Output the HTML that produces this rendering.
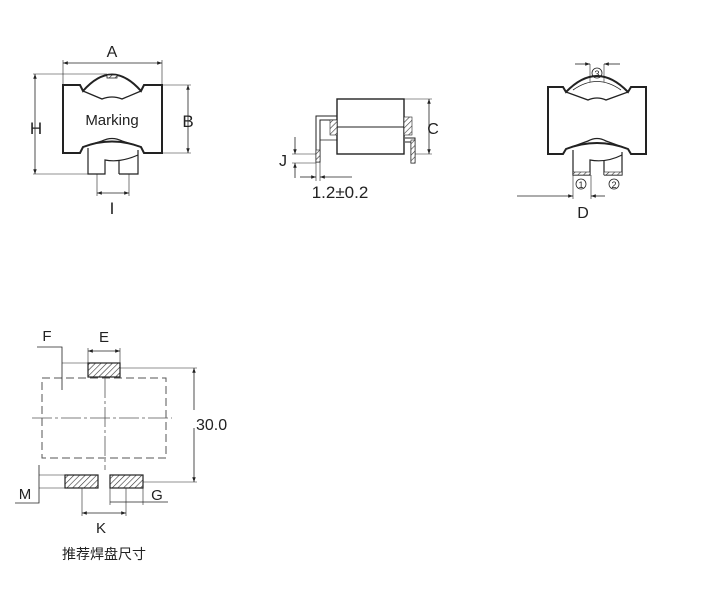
<!DOCTYPE html>
<html><head><meta charset="utf-8"><style>
html,body{margin:0;padding:0;background:#fff;}
svg{display:block;}
text{font-family:"Liberation Sans","Noto Sans CJK SC",sans-serif;fill:#222;}
</style></head><body>
<svg width="709" height="600" viewBox="0 0 709 600" xmlns="http://www.w3.org/2000/svg">
<defs>
<pattern id="h" width="4" height="4" patternUnits="userSpaceOnUse" patternTransform="rotate(45)">
<rect width="4" height="4" fill="#fff"/><line x1="0" y1="0" x2="0" y2="4" stroke="#333" stroke-width="1.2"/></pattern>
<marker id="a" markerWidth="6" markerHeight="6" refX="6" refY="3" orient="auto-start-reverse"><path d="M0,0.8 L6,3 L0,5.2z" fill="#222"/></marker>
</defs>
<g fill="none" stroke="#222" stroke-width="1">
<path d="M63,85 H80 L83,91 Q112,58 141,91 L144,85 H162 V153 H144 L141,147 Q112,136 83,147 L80,153 H63 Z" stroke-width="2"/>
<path d="M83,91 L102,99 Q112,95 122,99 L141,91" stroke-width="1.3"/>
<path d="M83,147 L102,141 Q112,136 122,141 L141,147" stroke-width="1.3"/>
<path d="M88,148 V174 H105 V160 Q120,163 138,155" stroke-width="1.2"/>
<path d="M119,174 V160 M119,174 H138 V150" stroke-width="1.2"/>
<rect x="107" y="75" width="10" height="3" fill="url(#h)" stroke-width="0.8"/>
<line x1="63" y1="63" x2="162" y2="63" marker-start="url(#a)" marker-end="url(#a)" stroke-width="0.8"/>
<line x1="63" y1="60" x2="63" y2="85" stroke-width="0.6"/><line x1="162" y1="60" x2="162" y2="85" stroke-width="0.6"/>
<line x1="35" y1="74" x2="35" y2="174" marker-start="url(#a)" marker-end="url(#a)" stroke-width="0.8"/>
<line x1="33" y1="74" x2="107" y2="74" stroke-width="0.6"/><line x1="33" y1="174" x2="88" y2="174" stroke-width="0.6"/>
<line x1="188" y1="85" x2="188" y2="153" marker-start="url(#a)" marker-end="url(#a)" stroke-width="0.8"/>
<line x1="162" y1="85" x2="191" y2="85" stroke-width="0.6"/><line x1="162" y1="153" x2="191" y2="153" stroke-width="0.6"/>
<line x1="97" y1="193" x2="129" y2="193" marker-start="url(#a)" marker-end="url(#a)" stroke-width="0.8"/>
<line x1="97" y1="174" x2="97" y2="196" stroke-width="0.6"/><line x1="129" y1="174" x2="129" y2="196" stroke-width="0.6"/>
<rect x="337" y="99" width="67" height="55" stroke-width="1.4"/>
<line x1="337" y1="127" x2="404" y2="127"/>
<path d="M337,116 H316 V162 H320 V120 H337" stroke-width="1"/>
<path d="M320,140 H337" stroke-width="0.8"/>
<rect x="316" y="150" width="4" height="12" fill="url(#h)" stroke-width="0.6"/>
<rect x="330" y="120" width="7" height="15" fill="url(#h)" stroke-width="0.6"/>
<rect x="404" y="117" width="8" height="18" fill="url(#h)" stroke-width="0.6"/>
<path d="M405,138 H415 V163 H411 V142 H405"/>
<rect x="411" y="140" width="4" height="23" fill="url(#h)" stroke-width="0.6"/>
<line x1="429" y1="99" x2="429" y2="154" marker-start="url(#a)" marker-end="url(#a)" stroke-width="0.8"/>
<line x1="404" y1="99" x2="432" y2="99" stroke-width="0.6"/><line x1="415" y1="154" x2="432" y2="154" stroke-width="0.6"/>
<line x1="295" y1="137" x2="295" y2="154" marker-end="url(#a)" stroke-width="0.8"/>
<line x1="295" y1="178" x2="295" y2="163" marker-end="url(#a)" stroke-width="0.8"/>
<line x1="292" y1="154" x2="316" y2="154" stroke-width="0.6"/><line x1="292" y1="163" x2="316" y2="163" stroke-width="0.6"/>
<line x1="316" y1="162" x2="316" y2="181" stroke-width="0.6"/><line x1="320" y1="162" x2="320" y2="181" stroke-width="0.6"/>
<line x1="300" y1="177" x2="316" y2="177" marker-end="url(#a)" stroke-width="0.8"/>
<line x1="352" y1="177" x2="320" y2="177" marker-end="url(#a)" stroke-width="0.8"/>
<path d="M548,87 H563 L566,92 Q597,60 628,92 L631,87 H646 V154 H631 L628,149 Q597,137 566,149 L563,154 H548 Z" stroke-width="2"/>
<path d="M566,92 L588,100 Q597,96 606,100 L628,92" stroke-width="1.3"/>
<path d="M573,90 Q597,73 621,90" stroke-width="0.8"/>
<path d="M566,149 L588,141 Q597,136 606,141 L628,149" stroke-width="1.3"/>
<path d="M573,150 V175 H590 V160 Q606,163 622,155" stroke-width="1.2"/>
<path d="M604,175 V160 M604,175 H622 V152" stroke-width="1.2"/>
<rect x="573" y="172" width="17" height="3" fill="url(#h)" stroke-width="0.6"/>
<rect x="604" y="172" width="18" height="3" fill="url(#h)" stroke-width="0.6"/>
<circle cx="581" cy="184" r="5" stroke-width="0.8"/><circle cx="614" cy="184" r="5" stroke-width="0.8"/>
<circle cx="597" cy="73" r="5" stroke-width="0.8"/>
<line x1="590" y1="64" x2="590" y2="82" stroke-width="0.6"/><line x1="604" y1="64" x2="604" y2="82" stroke-width="0.6"/>
<line x1="575" y1="64" x2="590" y2="64" marker-end="url(#a)" stroke-width="0.8"/>
<line x1="620" y1="64" x2="604" y2="64" marker-end="url(#a)" stroke-width="0.8"/>
<line x1="573" y1="175" x2="573" y2="199" stroke-width="0.6"/><line x1="591" y1="175" x2="591" y2="199" stroke-width="0.6"/>
<line x1="517" y1="196" x2="573" y2="196" marker-end="url(#a)" stroke-width="0.8"/>
<line x1="605" y1="196" x2="591" y2="196" marker-end="url(#a)" stroke-width="0.8"/>
<rect x="42" y="378" width="124" height="80" stroke-dasharray="8,4" stroke="#555"/>
<line x1="105" y1="378" x2="105" y2="470" stroke-dasharray="20,3,3,3" stroke="#555" stroke-width="0.8"/>
<line x1="32" y1="418" x2="175" y2="418" stroke-dasharray="20,3,3,3" stroke="#555" stroke-width="0.8"/>
<rect x="88" y="363" width="32" height="14" fill="url(#h)" stroke-width="1.2"/>
<rect x="65" y="475" width="33" height="13" fill="url(#h)" stroke-width="1.2"/>
<rect x="110" y="475" width="33" height="13" fill="url(#h)" stroke-width="1.2"/>
<line x1="88" y1="351" x2="120" y2="351" marker-start="url(#a)" marker-end="url(#a)" stroke-width="0.8"/>
<line x1="88" y1="348" x2="88" y2="363" stroke-width="0.6"/><line x1="120" y1="348" x2="120" y2="363" stroke-width="0.6"/>
<path d="M37,347 H62 V390" stroke-width="0.8"/>
<line x1="62" y1="363" x2="88" y2="363" stroke-width="0.6"/>
<line x1="194" y1="368" x2="194" y2="482" marker-start="url(#a)" marker-end="url(#a)" stroke-width="0.8"/>
<line x1="120" y1="368" x2="197" y2="368" stroke-width="0.6"/><line x1="143" y1="482" x2="197" y2="482" stroke-width="0.6"/>
<rect x="172" y="410" width="48" height="18" fill="#fff" stroke="none"/>
<path d="M39,465 V503 H15" stroke-width="0.8"/>
<line x1="39" y1="475" x2="65" y2="475" stroke-width="0.6"/><line x1="39" y1="488" x2="65" y2="488" stroke-width="0.6"/>
<line x1="110" y1="488" x2="110" y2="505" stroke-width="0.6"/><line x1="143" y1="488" x2="143" y2="505" stroke-width="0.6"/>
<line x1="110" y1="502" x2="168" y2="502" stroke-width="0.8"/>
<line x1="82" y1="488" x2="82" y2="516" stroke-width="0.6"/><line x1="126" y1="488" x2="126" y2="516" stroke-width="0.6"/>
<line x1="82" y1="513" x2="126" y2="513" marker-start="url(#a)" marker-end="url(#a)" stroke-width="0.8"/>
</g>
<g font-size="16">
<text x="112" y="57" text-anchor="middle">A</text>
<text x="36" y="134" text-anchor="middle" font-size="17">H</text>
<text x="188" y="127" text-anchor="middle" font-size="17">B</text>
<text x="112" y="214" text-anchor="middle" font-family="Liberation Serif" font-size="17">I</text>
<text x="112" y="125" text-anchor="middle" font-size="15">Marking</text>
<text x="433" y="134" text-anchor="middle">C</text>
<text x="283" y="166" text-anchor="middle">J</text>
<text x="340" y="198" text-anchor="middle" font-size="17">1.2±0.2</text>
<text x="583" y="218" text-anchor="middle">D</text>
<text x="581" y="188" text-anchor="middle" font-size="9">1</text>
<text x="614" y="188" text-anchor="middle" font-size="9">2</text>
<text x="597" y="77" text-anchor="middle" font-size="9">3</text>
<text x="47" y="341" text-anchor="middle" font-size="15">F</text>
<text x="104" y="342" text-anchor="middle" font-size="15">E</text>
<text x="196" y="430" font-size="16">30.0</text>
<text x="25" y="499" text-anchor="middle" font-size="15">M</text>
<text x="157" y="500" text-anchor="middle" font-size="15">G</text>
<text x="101" y="533" text-anchor="middle" font-size="15">K</text>
<text x="104" y="559" text-anchor="middle" font-size="14">推荐焊盘尺寸</text>
</g>
</svg>
</body></html>
